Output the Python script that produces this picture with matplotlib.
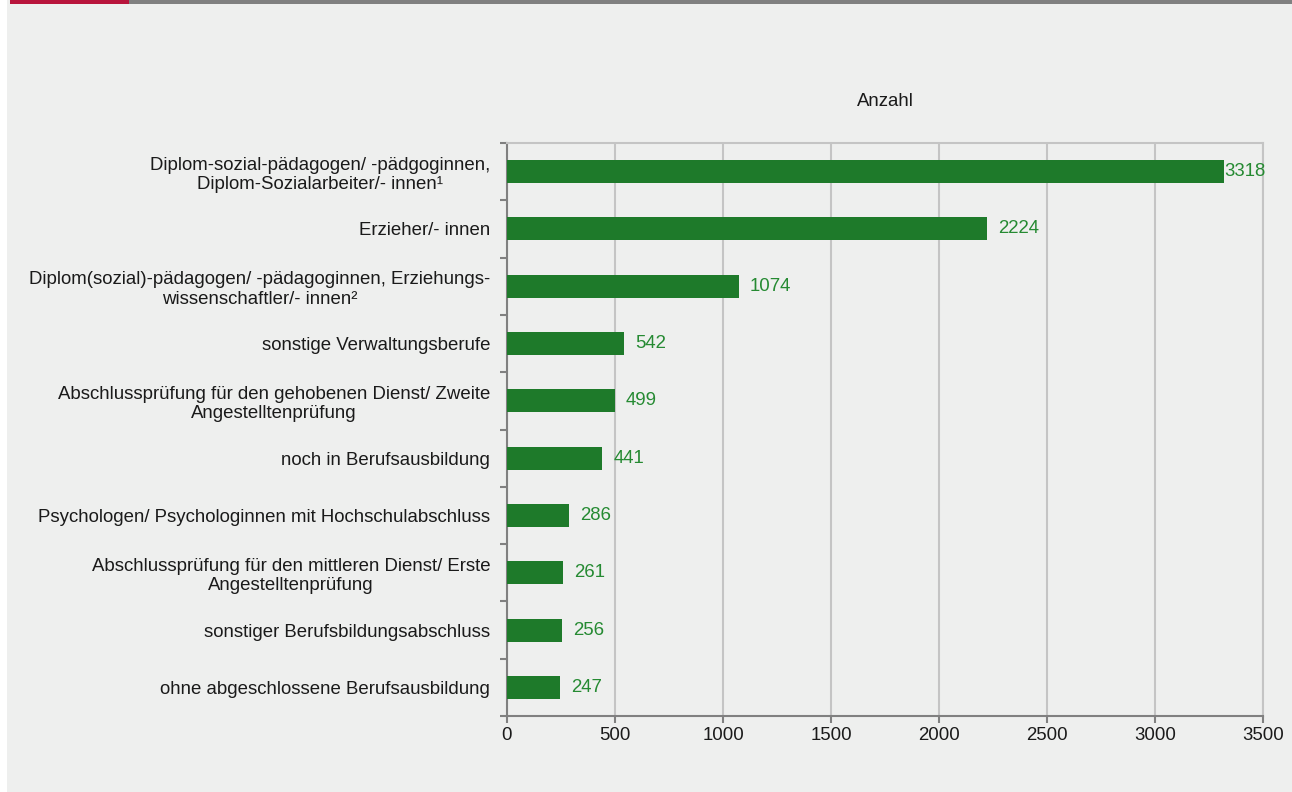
import matplotlib.pyplot as plt
from matplotlib.patches import Rectangle

categories = [
    'Diplom-sozial-pädagogen/ -pädgoginnen,\nDiplom-Sozialarbeiter/- innen¹',
    'Erzieher/- innen',
    'Diplom(sozial)-pädagogen/ -pädagoginnen, Erziehungs-\nwissenschaftler/- innen²',
    'sonstige Verwaltungsberufe',
    'Abschlussprüfung für den gehobenen Dienst/ Zweite\nAngestelltenprüfung',
    'noch in Berufsausbildung',
    'Psychologen/ Psychologinnen mit Hochschulabschluss',
    'Abschlussprüfung für den mittleren Dienst/ Erste\nAngestelltenprüfung',
    'sonstiger Berufsbildungsabschluss',
    'ohne abgeschlossene Berufsausbildung',
]
values = [3318, 2224, 1074, 542, 499, 441, 286, 261, 256, 247]
x_ticks = [0, 500, 1000, 1500, 2000, 2500, 3000, 3500]

plt.rcParams['font.family'] = ['Liberation Sans', 'DejaVu Sans']
fs = 13.4

W, H = 1292, 792
fig = plt.figure(figsize=(W / 100, H / 100), dpi=100)
fig.patch.set_facecolor('white')

bg = '#eeefee'
# grauer Hintergrund und Balken oben
fig.patches.append(Rectangle((7 / W, 0), 1 - 7 / W, 1, transform=fig.transFigure,
                             facecolor=bg, edgecolor='none', zorder=-10))
fig.patches.append(Rectangle((10 / W, 1 - 4 / H), 119 / W, 4 / H, transform=fig.transFigure,
                             facecolor='#b8143c', edgecolor='none', zorder=-5))
fig.patches.append(Rectangle((129 / W, 1 - 4 / H), 1 - 129 / W, 4 / H, transform=fig.transFigure,
                             facecolor='#808080', edgecolor='none', zorder=-5))

ax = fig.add_axes([507 / W, 1 - 716 / H, (1263 - 507) / W, (716 - 143) / H])
ax.set_facecolor(bg)

green = '#1e7a2a'
pos = list(range(len(values)))
ax.barh(pos, values, height=0.4, color=green, zorder=3)

for p, v in zip(pos, values):
    off = 1 if v > 3200 else 11
    ax.annotate(str(v), (v, p), xytext=(off, 0), textcoords='offset pixels',
                va='center', ha='left', fontsize=fs, color='#258a32')

ax.set_xlim(0, 3500)
ax.set_ylim(len(values) - 0.5, -0.5)
ax.set_xticks(x_ticks)
ax.set_xticklabels([str(t) for t in x_ticks], fontsize=fs, color='#1a1a1a')
ax.xaxis.grid(True, color='#c4c4c4', linewidth=1.5, zorder=0)

# Kategorien-Grenzen als Ticks, Beschriftung mittig
ax.set_yticks([i - 0.5 for i in range(len(values) + 1)])
ax.set_yticklabels([])
ax.set_yticks(pos, minor=True)
ax.set_yticklabels(categories, minor=True, fontsize=fs, color='#1a1a1a',
                   linespacing=1.2, ha='center')
ax.tick_params(axis='y', which='major', length=5, width=1.5, color='#808080', direction='out')
ax.tick_params(axis='y', which='minor', length=0, pad=12)
ax.tick_params(axis='x', length=5, width=1.5, color='#808080', pad=3)
for lab in ax.get_yticklabels(minor=True):
    lab.set_horizontalalignment('right')
    lab.set_multialignment('center')

for s in ['left', 'bottom']:
    ax.spines[s].set_color('#808080')
    ax.spines[s].set_linewidth(1.5)
for s in ['top', 'right']:
    ax.spines[s].set_color('#c4c4c4')
    ax.spines[s].set_linewidth(1.5)

ax.set_title('Anzahl', fontsize=fs, color='#1a1a1a', pad=27)

fig.savefig('out.png', dpi=100)
